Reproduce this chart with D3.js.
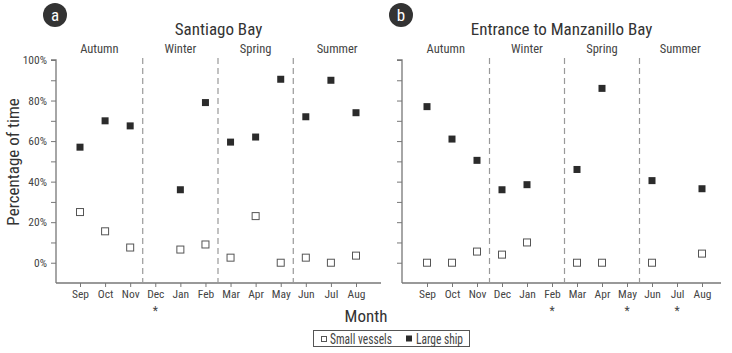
<!DOCTYPE html>
<html>
<head>
<meta charset="utf-8">
<script src="https://cdn.jsdelivr.net/npm/d3@7"></script>
<style>
  body { margin: 0; background: #fff; }
  svg text { font-family: "Liberation Sans Narrow", "Roboto Condensed", Roboto, sans-serif; }
</style>
</head>
<body>
<div id="chart"></div>
<script>
// data
const months = ["Sep", "Oct", "Nov", "Dec", "Jan", "Feb", "Mar", "Apr", "May", "Jun", "Jul", "Aug"];
const seasons = ["Autumn", "Winter", "Spring", "Summer"];
const yTicks = [0, 10, 20, 30, 40, 50, 60, 70, 80, 90, 100];

const santiagoLarge = [57, 70, 67.5, null, 36, 79, 59.5, 62, 90.5, 72, 90, 74];
const santiagoSmall = [25, 15.5, 7.5, null, 6.5, 9, 2.5, 23, 0, 2.5, 0, 3.5];
const santiagoMissing = ["Dec"];

const manzanilloLarge = [77, 61, 50.5, 36, 38.5, null, 46, 86, null, 40.5, null, 36.5];
const manzanilloSmall = [0, 0, 5.5, 4, 10, null, 0, 0, null, 0, null, 4.5];
const manzanilloMissing = ["Feb", "May", "Jul"];

const width = 732, height = 353;
const textCol = "#444";

const svg = d3.select("#chart").append("svg")
  .attr("width", width)
  .attr("height", height);

// shared y scale
const y = d3.scaleLinear().domain([-10, 100]).range([283, 60]);

const panels = [
  { letter: "a", title: "Santiago Bay", left: 56, right: 381, first: 80, last: 356,
    large: santiagoLarge, small: santiagoSmall, missing: santiagoMissing, labels: true },
  { letter: "b", title: "Entrance to Manzanillo Bay", left: 402, right: 721, first: 427, last: 702,
    large: manzanilloLarge, small: manzanilloSmall, missing: manzanilloMissing, labels: false }
];

panels.forEach(p => {
  const g = svg.append("g");
  const x = d3.scalePoint().domain(months).range([p.first, p.last]);
  const step = x.step();

  // y axis
  const yAxis = d3.axisLeft(y)
    .tickValues(yTicks)
    .tickSize(5)
    .tickFormat(d => (p.labels && d % 20 === 0) ? d + "%" : "");
  const ya = g.append("g")
    .attr("transform", `translate(${p.left},0)`)
    .call(yAxis);
  ya.select(".domain").attr("d", `M-5,${y(100)}H0V${y(-10)}`).attr("stroke", "#777").attr("stroke-width", 1.3);
  ya.selectAll(".tick line").attr("stroke", "#777");
  ya.selectAll(".tick text").attr("fill", textCol).attr("font-size", 11.5).attr("dx", -1);

  // x axis
  const xAxis = d3.axisBottom(x).tickSize(4).tickPadding(3);
  const xa = g.append("g")
    .attr("transform", `translate(0,${y(-10)})`)
    .call(xAxis);
  xa.select(".domain").attr("d", `M${p.left},0H${p.right}`).attr("stroke", "#777").attr("stroke-width", 1.3);
  xa.selectAll(".tick line").attr("stroke", "#777");
  xa.selectAll(".tick text").attr("fill", textCol).attr("font-size", 11.5);

  // asterisks for months without data
  g.selectAll(".star")
    .data(p.missing)
    .join("text")
    .attr("x", d => x(d))
    .attr("y", 315)
    .attr("text-anchor", "middle")
    .attr("font-size", 12)
    .attr("fill", textCol)
    .text("*");

  // season separators
  const bounds = [p.left, x("Nov") + step / 2, x("Feb") + step / 2, x("May") + step / 2, p.right];
  g.selectAll(".sep")
    .data(bounds.slice(1, 4))
    .join("line")
    .attr("x1", d => d).attr("x2", d => d)
    .attr("y1", y(100) - 2).attr("y2", y(-10))
    .attr("stroke", "#999")
    .attr("stroke-width", 1.2)
    .attr("stroke-dasharray", "6,4");

  g.selectAll(".season")
    .data(seasons)
    .join("text")
    .attr("x", (d, i) => (bounds[i] + bounds[i + 1]) / 2)
    .attr("y", 53)
    .attr("text-anchor", "middle")
    .attr("font-size", 12.5)
    .attr("fill", textCol)
    .text(d => d);

  // title
  g.append("text")
    .attr("x", (p.left + p.right) / 2)
    .attr("y", 35)
    .attr("text-anchor", "middle")
    .attr("font-size", 17)
    .attr("fill", "#333")
    .text(p.title);

  // panel letter badge
  g.append("circle")
    .attr("cx", p.left - 1).attr("cy", 15).attr("r", 12)
    .attr("fill", "#333");
  g.append("text")
    .attr("x", p.left - 1).attr("y", 21)
    .attr("text-anchor", "middle")
    .attr("font-size", 17)
    .attr("fill", "#fff")
    .text(p.letter);

  // markers
  const s = 7;
  g.selectAll(".small")
    .data(months.map((m, i) => ({ m, v: p.small[i] })).filter(d => d.v !== null))
    .join("rect")
    .attr("x", d => x(d.m) - s / 2)
    .attr("y", d => y(d.v) - s / 2)
    .attr("width", s).attr("height", s)
    .attr("fill", "#fff")
    .attr("stroke", "#555")
    .attr("stroke-width", 1);

  g.selectAll(".large")
    .data(months.map((m, i) => ({ m, v: p.large[i] })).filter(d => d.v !== null))
    .join("rect")
    .attr("x", d => x(d.m) - s / 2)
    .attr("y", d => y(d.v) - s / 2)
    .attr("width", s).attr("height", s)
    .attr("fill", "#2b2b2b");
});

// y label
svg.append("text")
  .attr("transform", "translate(19,162) rotate(-90)")
  .attr("text-anchor", "middle")
  .attr("font-size", 17)
  .attr("fill", "#333")
  .text("Percentage of time");

// x label
svg.append("text")
  .attr("x", 366).attr("y", 322)
  .attr("text-anchor", "middle")
  .attr("font-size", 17)
  .attr("fill", "#333")
  .text("Month");

// legend
const leg = svg.append("g");
leg.append("rect")
  .attr("x", 313.5).attr("y", 330.5)
  .attr("width", 156).attr("height", 16)
  .attr("fill", "#fff")
  .attr("stroke", "#555")
  .attr("stroke-width", 1);
leg.append("rect")
  .attr("x", 321.5).attr("y", 336.5).attr("width", 5).attr("height", 5)
  .attr("fill", "#fff").attr("stroke", "#555");
leg.append("text")
  .attr("x", 330).attr("y", 343.5)
  .attr("font-size", 14).attr("fill", textCol)
  .attr("textLength", 62).attr("lengthAdjust", "spacingAndGlyphs")
  .text("Small vessels");
leg.append("rect")
  .attr("x", 406).attr("y", 335.5).attr("width", 6).attr("height", 6)
  .attr("fill", "#2b2b2b");
leg.append("text")
  .attr("x", 416).attr("y", 343.5)
  .attr("font-size", 14).attr("fill", textCol)
  .attr("textLength", 47).attr("lengthAdjust", "spacingAndGlyphs")
  .text("Large ship");
</script>
</body>
</html>
